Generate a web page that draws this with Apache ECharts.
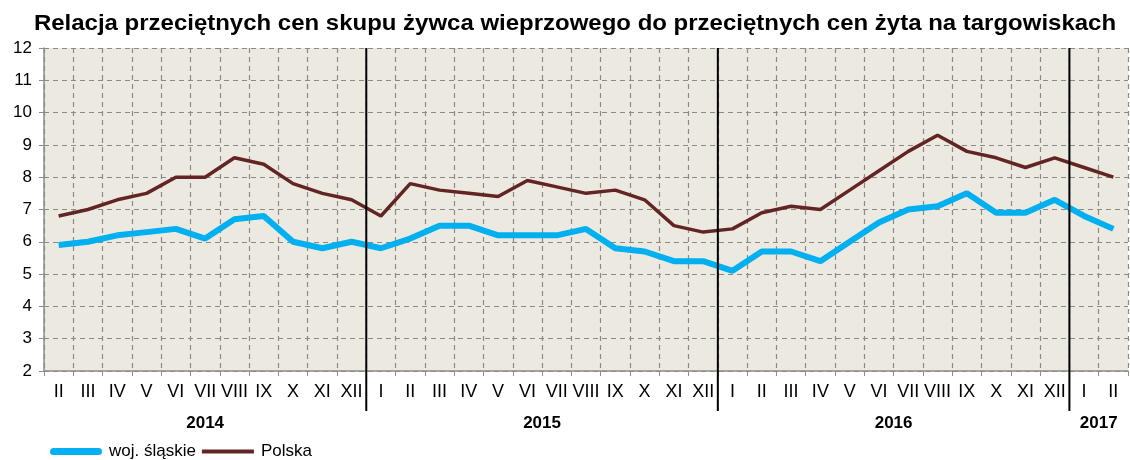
<!DOCTYPE html>
<html>
<head>
<meta charset="utf-8">
<script src="https://cdn.jsdelivr.net/npm/echarts@6/dist/echarts.min.js"></script>
<style>
  html, body { margin: 0; padding: 0; background: #fff; }
  #chart { width: 1130px; height: 460px; }
</style>
</head>
<body>
<div id="chart"></div>
<script>
// miesiące od II 2014 do II 2017
const categories = [
  'II', 'III', 'IV', 'V', 'VI', 'VII', 'VIII', 'IX', 'X', 'XI', 'XII',
  'I', 'II', 'III', 'IV', 'V', 'VI', 'VII', 'VIII', 'IX', 'X', 'XI', 'XII',
  'I', 'II', 'III', 'IV', 'V', 'VI', 'VII', 'VIII', 'IX', 'X', 'XI', 'XII',
  'I', 'II'
]
const yearLabels = ['2014', '2015', '2016', '2017']
const yearStart = [0, 11, 23, 35] // indeks pierwszego miesiąca w roku

const slaskie = [
  5.9, 6.0, 6.2, 6.3, 6.4, 6.1, 6.7, 6.8, 6.0, 5.8, 6.0,
  5.8, 6.1, 6.5, 6.5, 6.2, 6.2, 6.2, 6.4, 5.8, 5.7, 5.4, 5.4,
  5.1, 5.7, 5.7, 5.4, 6.0, 6.6, 7.0, 7.1, 7.5, 6.9, 6.9, 7.3,
  6.8, 6.4
]
const polska = [
  6.8, 7.0, 7.3, 7.5, 8.0, 8.0, 8.6, 8.4, 7.8, 7.5, 7.3,
  6.8, 7.8, 7.6, 7.5, 7.4, 7.9, 7.7, 7.5, 7.6, 7.3, 6.5, 6.3,
  6.4, 6.9, 7.1, 7.0, 7.6, 8.2, 8.8, 9.3, 8.8, 8.6, 8.3, 8.6,
  8.3, 8.0
]

const chart = echarts.init(document.getElementById('chart'))
const font = 'Liberation Sans, Arial, sans-serif'
const titleText = 'Relacja przeciętnych cen skupu żywca wieprzowego do przeciętnych cen żyta na targowiskach'

const option = {
  animation: false,
  backgroundColor: '#fff',
  textStyle: { fontFamily: font },
  legend: {
    left: 50,
    top: 443,
    padding: 0,
    itemWidth: 52,
    itemHeight: 14,
    itemGap: 6,
    textStyle: { fontSize: 17, color: '#000', fontFamily: font, padding: [0, 0, 0, 2] },
    data: [
      {
        name: 'woj. śląskie',
        icon: 'path://M3.5,0 L48.5,0 A3.5,3.5 0 0 1 48.5,7 L3.5,7 A3.5,3.5 0 0 1 3.5,0 Z',
        itemStyle: { color: '#00B0F0' }
      },
      {
        name: 'Polska',
        icon: 'path://M0,0 L52,0 L52,4 L0,4 Z',
        itemStyle: { color: '#632523' }
      }
    ]
  },
  grid: {
    left: 44,
    right: 2,
    top: 48,
    bottom: 89,
    show: true,
    backgroundColor: '#ECE9E1',
    borderWidth: 0
  },
  xAxis: {
    type: 'category',
    data: categories,
    boundaryGap: true,
    axisLine: { lineStyle: { color: '#8c8c8c', width: 1.5 } },
    axisTick: { show: true, length: 5, interval: 0, lineStyle: { color: '#8c8c8c' } },
    axisLabel: { interval: 0, fontSize: 18, color: '#000', margin: 12, fontFamily: font },
    splitLine: {
      show: true,
      interval: 0,
      lineStyle: { color: '#8a8a8a', type: [5, 4], width: 1.2 }
    }
  },
  yAxis: {
    type: 'value',
    min: 2,
    max: 12,
    interval: 1,
    axisLine: { show: true, lineStyle: { color: '#8c8c8c', width: 1.5 } },
    axisTick: { show: true, length: 5, lineStyle: { color: '#8c8c8c' } },
    axisLabel: { fontSize: 17, color: '#000', margin: 12, fontFamily: font },
    splitLine: {
      show: true,
      lineStyle: { color: '#8a8a8a', type: [5, 4], width: 1.2 }
    }
  },
  series: [
    {
      name: 'woj. śląskie',
      type: 'line',
      data: slaskie,
      symbol: 'none',
      color: '#00B0F0',
      lineStyle: { color: '#00B0F0', width: 6 },
      z: 3
    },
    {
      name: 'Polska',
      type: 'line',
      data: polska,
      symbol: 'none',
      color: '#632523',
      lineStyle: { color: '#632523', width: 3.5 },
      z: 4
    }
  ]
}
chart.setOption(option)

// separatory lat i podpisy lat – liczone z osi
const x0 = chart.convertToPixel({ xAxisIndex: 0 }, 0)
const x1 = chart.convertToPixel({ xAxisIndex: 0 }, 1)
const half = (x1 - x0) / 2
const yTop = chart.convertToPixel({ yAxisIndex: 0 }, 12)
const yBottom = chart.convertToPixel({ yAxisIndex: 0 }, 2)
const graphics = [
  {
    type: 'text',
    x: 575,
    y: 24,
    scaleX: 1.09,
    style: {
      text: titleText,
      fontSize: 22,
      fontWeight: 'bold',
      fontFamily: font,
      fill: '#000',
      align: 'center',
      verticalAlign: 'middle'
    }
  }
]
yearLabels.forEach(function (label, i) {
  const first = yearStart[i]
  const last = i + 1 < yearStart.length ? yearStart[i + 1] - 1 : categories.length - 1
  const left = chart.convertToPixel({ xAxisIndex: 0 }, first) - half
  const right = chart.convertToPixel({ xAxisIndex: 0 }, last) + half
  if (i > 0) {
    graphics.push({
      type: 'line',
      shape: { x1: left, y1: yTop, x2: left, y2: yBottom + 40 },
      style: { stroke: '#000', lineWidth: 2 },
      z: 10
    })
  }
  graphics.push({
    type: 'text',
    x: (left + right) / 2,
    y: yBottom + 52,
    style: {
      text: label,
      fontSize: 17,
      fontWeight: 'bold',
      fontFamily: font,
      fill: '#000',
      align: 'center',
      verticalAlign: 'middle'
    }
  })
})
chart.setOption({ graphic: graphics })
</script>
</body>
</html>
